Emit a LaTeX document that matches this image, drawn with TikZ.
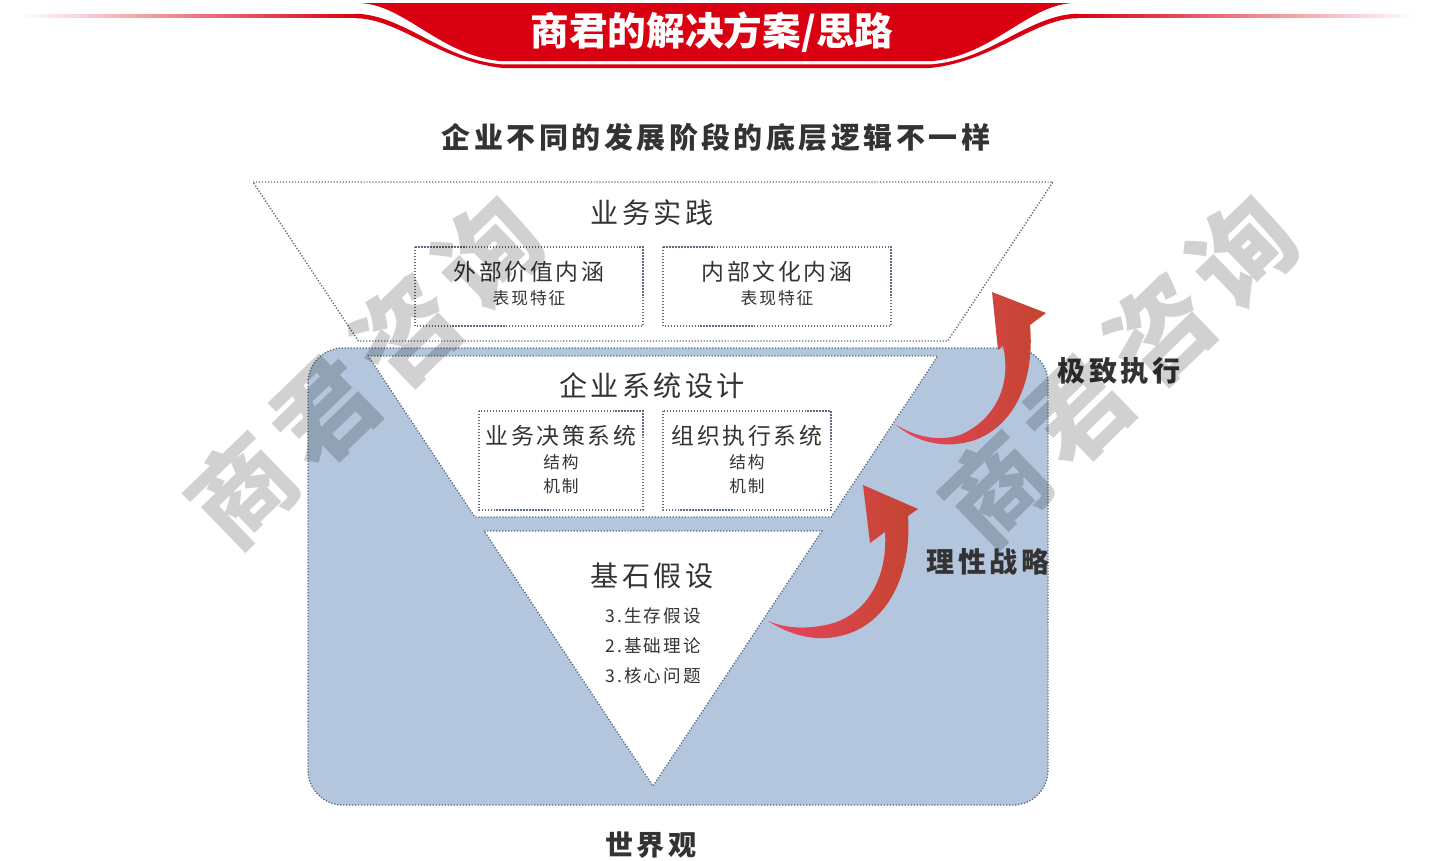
\documentclass[tikz,border=0pt]{standalone}
\usepackage{fontspec}
\setmainfont{Noto Sans CJK SC}
\newfontfamily\wide[LetterSpace=12]{Noto Sans CJK SC}
\newfontfamily\markfont[LetterSpace=12]{Noto Sans CJK SC}
\usetikzlibrary{calc}
\definecolor{bannerred}{HTML}{D90012}
\definecolor{panelblue}{HTML}{B3C6DD}
\definecolor{dotline}{HTML}{5C6B80}
\definecolor{ink}{HTML}{333333}
\definecolor{arrowpink}{HTML}{E8455F}
\definecolor{arrowrust}{HTML}{C2452F}

\begin{document}
\begin{tikzpicture}[x=0.02cm, y=-0.02cm,
	dotbox/.style={draw=dotline, line width=0.8pt, dash pattern=on 0.7pt off 1pt, fill=white},
	bandtitle/.style={text=ink, font=\wide\fontsize{16}{18}\selectfont},
	boxtitle/.style={text=ink, font=\wide\fontsize{13}{15}\selectfont},
	boxsub/.style={text=ink, font=\wide\fontsize{9.5}{11}\selectfont},
	bigword/.style={text=ink, font=\wide\bfseries\fontsize{16}{18}\selectfont},
	watermark/.style={rotate=44, text=black, opacity=0.18, font=\markfont\bfseries\fontsize{58}{58}\selectfont}]
	\useasboundingbox (0,0) rectangle (1435,860);
	%% banner
	\shade[left color=white, right color=bannerred] (20,14.5) rectangle (356,17.5);
	\shade[left color=bannerred, right color=white] (1077,14.5) rectangle (1415,17.5);
	\draw[bannerred, line width=2.5pt] (355,16) .. controls (400,16) and (440,60) .. (505,66) -- (928,66) .. controls (993,60) and (1033,16) .. (1078,16);
	\draw[white, line width=1.5pt] (352,9) .. controls (400,10) and (440,58) .. (502,63) -- (931,63) .. controls (993,58) and (1033,10) .. (1081,9);
	\fill[bannerred] (360,3) .. controls (405,5) and (440,55) .. (500,61) -- (933,61) .. controls (993,55) and (1028,5) .. (1073,3) -- cycle;
	\node[text=white, font=\bfseries\fontsize{22}{24}\selectfont] (banner) at (712,32) {商君的解决方案/思路};
	%%
	\node[bigword, font=\wide\bfseries\fontsize{16.5}{18}\selectfont] (title) at (716,137) {企业不同的发展阶段的底层逻辑不一样};
	%% blue panel
	\draw[fill=panelblue, draw=dotline, line width=0.8pt, dash pattern=on 0.7pt off 1pt, rounded corners=0.7cm] (308,348) rectangle (1048,805);
	%% inverted triangle in three bands
	\coordinate (tl) at (253,182);
	\coordinate (tr) at (1053,182);
	\coordinate (apex) at (653,786);
	\draw[dotbox] (tl) -- (tr) -- ($(tr)!0.2632!(apex)$) -- ($(tl)!0.2632!(apex)$) -- cycle;
	\draw[dotbox] ($(tl)!0.2881!(apex)$) -- ($(tr)!0.2881!(apex)$) -- ($(tr)!0.5546!(apex)$) -- ($(tl)!0.5546!(apex)$) -- cycle;
	\draw[dotbox] ($(tl)!0.5778!(apex)$) -- ($(tr)!0.5778!(apex)$) -- (apex) -- cycle;
	%%
	\draw[dotbox] (415,247) rectangle (643,326);
	\draw[dotbox] (663,247) rectangle (891,326);
	\draw[dotbox] (479,411) rectangle (643,510);
	\draw[dotbox] (663,411) rectangle (831,510);
	%%
	\node[bandtitle] (practice) at (652,213) {业务实践};
	\node[boxtitle] (outer) at (529,272) {外部价值内涵};
	\node[boxsub] (outersub) at (529,298) {表现特征};
	\node[boxtitle] (inner) at (777,272) {内部文化内涵};
	\node[boxsub] (innersub) at (777,298) {表现特征};
	%%
	\node[bandtitle] (design) at (652,386) {企业系统设计};
	\node[boxtitle] (decide) at (561,436) {业务决策系统};
	\node[boxsub] (decidea) at (561,462) {结构};
	\node[boxsub] (decideb) at (561,486) {机制};
	\node[boxtitle] (run) at (747,436) {组织执行系统};
	\node[boxsub] (runa) at (747,462) {结构};
	\node[boxsub] (runb) at (747,486) {机制};
	%%
	\node[bandtitle] (base) at (652,576) {基石假设};
	\node[boxsub, font=\wide\fontsize{10}{12}\selectfont] (basea) at (653,616) {3.生存假设};
	\node[boxsub, font=\wide\fontsize{10}{12}\selectfont] (baseb) at (653,646) {2.基础理论};
	\node[boxsub, font=\wide\fontsize{10}{12}\selectfont] (basec) at (653,676) {3.核心问题};
	%%
	\node[bigword] (world) at (651,845) {世界观};
	%% red arrows
	\shade[left color=arrowpink, right color=arrowrust] (895,424) .. controls (915,442) and (945,450) .. (975,440) .. controls (1015,425) and (1035,380) .. (1030,325) -- (1046,313) -- (992,292) -- (998,350) -- (1003,346) .. controls (1012,385) and (995,420) .. (960,435) .. controls (935,443) and (910,434) .. (895,424) -- cycle;
	\shade[left color=arrowpink, right color=arrowrust] (768,621) .. controls (790,635) and (815,642) .. (840,636) .. controls (890,625) and (912,570) .. (908,516) -- (918,509) -- (863,485) -- (870,543) -- (885,532) .. controls (888,580) and (865,615) .. (830,624) .. controls (805,630) and (785,628) .. (768,621) -- cycle;
	\node[bigword] (execute) at (1119,371) {极致执行};
	\node[bigword] (strategy) at (988,562) {理性战略};
	%% watermarks
	\node[watermark] (markleft) at (365,371) {商君咨询};
	\node[watermark] (markright) at (1119,370) {商君咨询};
\end{tikzpicture}
\end{document}
